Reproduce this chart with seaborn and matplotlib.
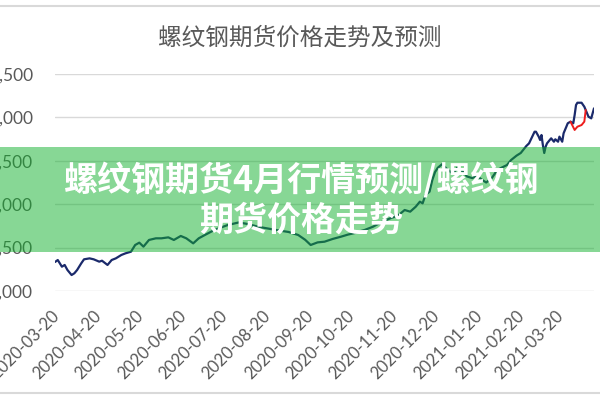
import matplotlib
matplotlib.use("Agg")
import matplotlib.pyplot as plt
import matplotlib.dates as mdates
from matplotlib.patches import Rectangle
from matplotlib.lines import Line2D
from matplotlib.ticker import FuncFormatter
import pandas as pd
import seaborn as sns

actual_dates = [
    "2020-03-19", "2020-03-21", "2020-03-24", "2020-03-26", "2020-03-28", "2020-03-31",
    "2020-04-02", "2020-04-04", "2020-04-07", "2020-04-09", "2020-04-13", "2020-04-16",
    "2020-04-20", "2020-04-22", "2020-04-26", "2020-04-29", "2020-05-02", "2020-05-06",
    "2020-05-09", "2020-05-13", "2020-05-16", "2020-05-19", "2020-05-22", "2020-05-26",
    "2020-05-31", "2020-06-04", "2020-06-09", "2020-06-13", "2020-06-18", "2020-06-22",
    "2020-06-27", "2020-07-01", "2020-07-06", "2020-07-12", "2020-07-18", "2020-07-22",
    "2020-07-30", "2020-08-06", "2020-08-13", "2020-08-20", "2020-08-27", "2020-09-04",
    "2020-09-11", "2020-09-16", "2020-09-20", "2020-09-25", "2020-09-30", "2020-10-06",
    "2020-10-12", "2020-10-17", "2020-10-22", "2020-10-26", "2020-10-29", "2020-11-04",
    "2020-11-11", "2020-11-17", "2020-11-20", "2020-11-23", "2020-11-27", "2020-12-01",
    "2020-12-05", "2020-12-08", "2020-12-10", "2020-12-12", "2020-12-15", "2020-12-17",
    "2020-12-19", "2020-12-21", "2020-12-24", "2020-12-28", "2021-01-01", "2021-01-04",
    "2021-01-08", "2021-01-11", "2021-01-15", "2021-01-18", "2021-01-22", "2021-01-25",
    "2021-01-29", "2021-02-02", "2021-02-05", "2021-02-09", "2021-02-12", "2021-02-16",
    "2021-02-19", "2021-02-23", "2021-02-25", "2021-03-01", "2021-03-02", "2021-03-04",
    "2021-03-05", "2021-03-06", "2021-03-07", "2021-03-08", "2021-03-09", "2021-03-10",
    "2021-03-12", "2021-03-13", "2021-03-15", "2021-03-16", "2021-03-18", "2021-03-19",
    "2021-03-21", "2021-03-22", "2021-03-24", "2021-03-25", "2021-03-27", "2021-03-29",
    "2021-03-30", "2021-03-31", "2021-04-01", "2021-04-04", "2021-04-06", "2021-04-07",
    "2021-04-09", "2021-04-11", "2021-04-12", "2021-04-13",
]
actual_prices = [
    3334, 3357, 3280, 3300, 3242, 3184,
    3204, 3242, 3319, 3365, 3376, 3365,
    3338, 3349, 3300, 3357, 3376, 3415,
    3434, 3453, 3530, 3557, 3511, 3588,
    3607, 3607, 3618, 3588, 3634, 3607,
    3549, 3607, 3650, 3700, 3737, 3760,
    3790, 3770, 3740, 3720, 3700, 3680,
    3645, 3590, 3530, 3560, 3568, 3600,
    3626, 3650, 3668, 3690, 3703, 3740,
    3800, 3840, 3856, 3880, 3933, 3914,
    3971, 4029, 4010, 4106, 4144, 4279,
    4371, 4420, 4460, 4400, 4350, 4420,
    4380, 4320, 4300, 4330, 4280, 4250,
    4300, 4394, 4420, 4451, 4509, 4560,
    4590, 4670, 4701, 4835, 4835, 4778,
    4740, 4797, 4682, 4590, 4662, 4701,
    4740, 4759, 4720, 4748, 4720, 4778,
    4720, 4817, 4893, 4932, 4951, 4932,
    5028, 5143, 5169, 5169, 5123, 5085,
    5008, 4989, 5047, 5104,
]

# forecast segment (red)
forecast_dates = ["2021-03-27", "2021-03-30", "2021-04-01", "2021-04-04", "2021-04-06", "2021-04-07"]
forecast_prices = [4951, 4855, 4893, 4912, 4951, 5085]

y_ticks = [3000, 3500, 4000, 4500, 5000, 5500]
x_ticks = [
    "2020-03-20", "2020-04-20", "2020-05-20", "2020-06-20", "2020-07-20", "2020-08-20",
    "2020-09-20", "2020-10-20", "2020-11-20", "2020-12-20", "2021-01-20", "2021-02-20",
    "2021-03-20",
]

title = "螺纹钢期货价格走势及预测"
banner_text = "螺纹钢期货4月行情预测/螺纹钢\n期货价格走势"

actual = pd.DataFrame({"date": pd.to_datetime(actual_dates), "price": actual_prices})
forecast = pd.DataFrame({"date": pd.to_datetime(forecast_dates), "price": forecast_prices})

sns.set_theme(style="white")
plt.rcParams["font.family"] = ["Lato", "Noto Sans CJK SC", "DejaVu Sans"]

fig = plt.figure(figsize=(6, 4), dpi=100)
ax = fig.add_axes([55 / 600, 1 - 291 / 400, 539 / 600, 217 / 400])

sns.lineplot(data=actual, x="date", y="price", ax=ax, color="#1b2a6b", linewidth=1.6)
sns.lineplot(data=forecast, x="date", y="price", ax=ax, color="#ee1c1c", linewidth=1.4)

ax.set_xlim(pd.Timestamp("2020-03-19"), pd.Timestamp("2021-04-13"))
ax.set_ylim(y_ticks[0], y_ticks[-1])
ax.set_yticks(y_ticks)
ax.yaxis.set_major_formatter(FuncFormatter(lambda v, _: f"{int(v):,}"))
ax.set_xticks(pd.to_datetime(x_ticks))
ax.xaxis.set_major_formatter(mdates.DateFormatter("%Y-%m-%d"))
ax.set_xlabel("")
ax.set_ylabel("")
for s in ax.spines.values():
    s.set_visible(False)
ax.grid(axis="y", color="#d9d9d9", linewidth=1.0)
ax.grid(axis="x", visible=False)
ax.tick_params(axis="y", length=0, pad=16, labelsize=12.5, labelcolor="#595959")
ax.tick_params(axis="x", length=0, pad=16, labelsize=12, labelcolor="#595959")
for lbl in ax.get_xticklabels():
    lbl.set_rotation(45)
    lbl.set_ha("right")
    lbl.set_va("center")
    lbl.set_rotation_mode("anchor")

fig.text(0.5, 1 - 38 / 400, title, ha="center", va="center", fontsize=17,
         color="#595959", family=["Noto Sans CJK SC", "DejaVu Sans"])

# outer chart-area border (top and bottom visible)
fig.add_artist(Line2D([0, 1], [1 - 6 / 400] * 2, color="#d9d9d9", linewidth=1.5))
fig.add_artist(Line2D([0, 1], [1 - 393 / 400] * 2, color="#d9d9d9", linewidth=1.5))

# translucent green banner with headline
fig.add_artist(Rectangle((0, 1 - 252 / 400), 1, 105 / 400, transform=fig.transFigure,
                         facecolor=(17 / 255, 177 / 255, 45 / 255), alpha=0.5,
                         edgecolor="none", zorder=5))
fig.text(0.502, 0.5, banner_text, ha="center", va="center", fontsize=24.5, fontweight=900,
         color="white", linespacing=1.12, zorder=6,
         family=["Noto Sans CJK SC", "DejaVu Sans"])

fig.savefig("out.png", dpi=100)
